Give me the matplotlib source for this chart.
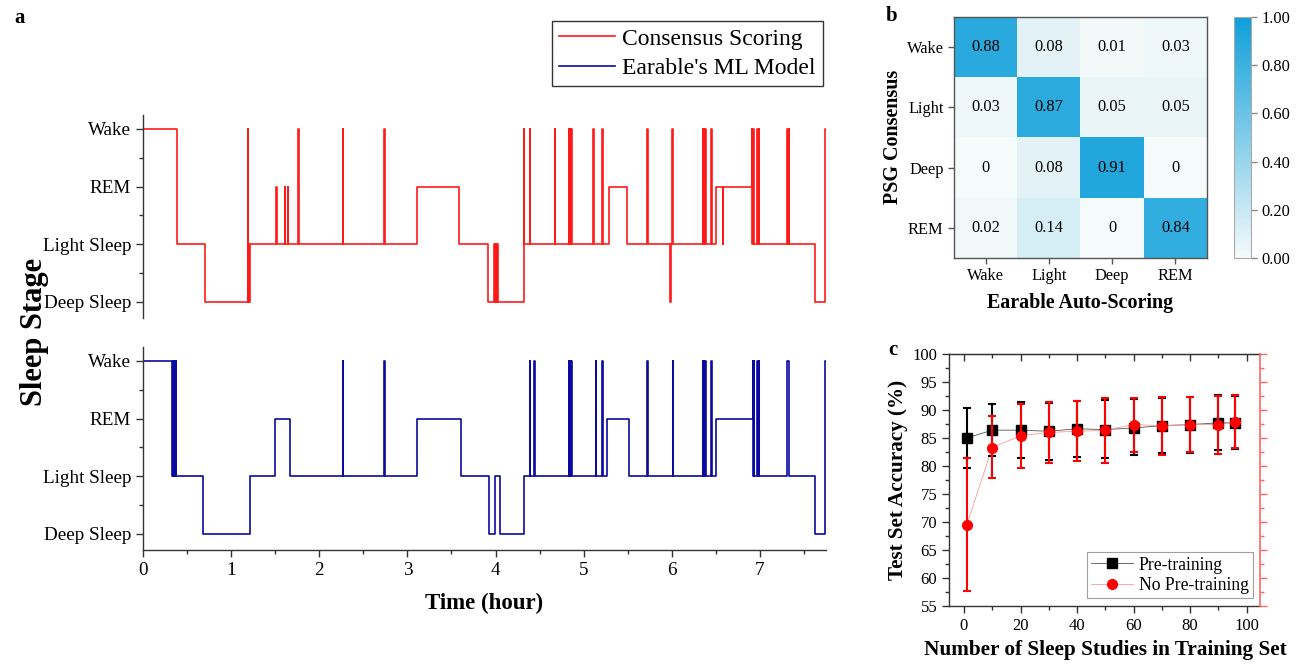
import numpy as np
import matplotlib
matplotlib.use("Agg")
import matplotlib.pyplot as plt
from matplotlib.colors import LinearSegmentedColormap
from matplotlib.ticker import MultipleLocator, FixedLocator

plt.rcParams['font.family'] = ['Liberation Serif', 'DejaVu Serif']
plt.rcParams['mathtext.fontset'] = 'stix'

# ---------------- data ----------------
stage_names = ['Deep Sleep', 'Light Sleep', 'REM', 'Wake']
stage_code = {'D': 0, 'L': 1, 'R': 2, 'W': 3}

consensus_times = [0, 0.39, 0.70, 1.19, 1.196, 1.201, 1.205, 1.21, 1.51, 1.515,
                   1.61, 1.615, 1.645, 1.65, 1.76, 1.765, 2.27, 2.275, 2.74, 2.745,
                   3.11, 3.59, 3.92, 3.98, 3.99, 4.00, 4.01, 4.02, 4.03, 4.32,
                   4.327, 4.39, 4.395, 4.67, 4.675, 4.83, 4.836, 4.845, 4.851, 4.86,
                   4.866, 5.11, 5.115, 5.21, 5.215, 5.29, 5.49, 5.72, 5.725, 5.98,
                   5.986, 6.005, 6.011, 6.35, 6.356, 6.365, 6.371, 6.38, 6.386, 6.45,
                   6.455, 6.50, 6.58, 6.585, 6.91, 6.915, 6.925, 6.93, 6.97, 6.975,
                   6.985, 6.99, 7.31, 7.316, 7.325, 7.331, 7.62, 7.74]
consensus_stages = ['W', 'L', 'D', 'W', 'D', 'L', 'D', 'L', 'R', 'L',
                    'R', 'L', 'R', 'L', 'W', 'L', 'W', 'L', 'W', 'L',
                    'R', 'L', 'D', 'L', 'D', 'L', 'D', 'L', 'D', 'W',
                    'L', 'W', 'L', 'W', 'L', 'W', 'L', 'W', 'L', 'W',
                    'L', 'W', 'L', 'W', 'L', 'R', 'L', 'W', 'L', 'D',
                    'L', 'W', 'L', 'W', 'L', 'W', 'L', 'W', 'L', 'W',
                    'L', 'R', 'L', 'R', 'W', 'L', 'W', 'L', 'W', 'L',
                    'W', 'L', 'W', 'L', 'W', 'L', 'D', 'W']

model_times = [0, 0.33, 0.336, 0.342, 0.348, 0.354, 0.36, 0.366, 0.372, 0.378,
               0.68, 1.21, 1.50, 1.67, 2.27, 2.275, 2.74, 2.745, 3.11, 3.61,
               3.93, 3.99, 4.05, 4.32, 4.39, 4.395, 4.44, 4.445, 4.83, 4.836,
               4.845, 4.851, 4.86, 4.866, 5.14, 5.145, 5.21, 5.215, 5.27, 5.51,
               5.72, 5.725, 6.01, 6.015, 6.35, 6.356, 6.365, 6.371, 6.38, 6.386,
               6.45, 6.455, 6.50, 6.92, 6.926, 6.932, 6.938, 6.97, 6.975, 6.985,
               6.99, 7.31, 7.33, 7.62, 7.74]
model_stages = ['W', 'L', 'W', 'L', 'W', 'L', 'W', 'L', 'W', 'L',
                'D', 'L', 'R', 'L', 'W', 'L', 'W', 'L', 'R', 'L',
                'D', 'L', 'D', 'L', 'W', 'L', 'W', 'L', 'W', 'L',
                'W', 'L', 'W', 'L', 'W', 'L', 'W', 'L', 'R', 'L',
                'W', 'L', 'W', 'L', 'W', 'L', 'W', 'L', 'W', 'L',
                'W', 'L', 'R', 'W', 'L', 'W', 'L', 'W', 'L', 'W',
                'L', 'W', 'L', 'D', 'W']
record_end = 7.75

cm_labels = ['Wake', 'Light', 'Deep', 'REM']
cm_values = [[0.88, 0.08, 0.01, 0.03],
             [0.03, 0.87, 0.05, 0.05],
             [0.00, 0.08, 0.91, 0.00],
             [0.02, 0.14, 0.00, 0.84]]
cm_text = [['0.88', '0.08', '0.01', '0.03'],
           ['0.03', '0.87', '0.05', '0.05'],
           ['0', '0.08', '0.91', '0'],
           ['0.02', '0.14', '0', '0.84']]

n_studies = [1, 10, 20, 30, 40, 50, 60, 70, 80, 90, 96]
pre_mean = [85.0, 86.4, 86.4, 86.2, 86.65, 86.5, 86.8, 87.2, 87.4, 87.7, 87.7]
pre_low = [79.7, 81.8, 81.35, 81.05, 81.6, 81.4, 81.9, 82.3, 82.4, 82.8, 83.1]
pre_high = [90.35, 91.0, 91.5, 91.3, 91.6, 91.7, 92.0, 92.2, 92.4, 92.6, 92.5]
nopre_mean = [69.5, 83.3, 85.4, 86.0, 86.2, 86.4, 87.4, 87.2, 87.4, 87.4, 87.85]
nopre_low = [57.75, 77.8, 79.7, 80.6, 80.9, 80.6, 82.5, 81.95, 82.5, 82.2, 83.25]
nopre_high = [81.35, 88.85, 91.1, 91.5, 91.65, 92.1, 92.1, 92.25, 92.4, 92.55, 92.65]

# ---------------- figure ----------------
W, H = 1306, 665
fig = plt.figure(figsize=(W / 100, H / 100), dpi=100)


def fbox(left, top, right, bottom):
    return [left / W, 1 - bottom / H, (right - left) / W, (bottom - top) / H]


def hypno(ax, times, stages, color, label):
    t = list(times) + [record_end]
    s = [stage_code[c] for c in stages]
    s = s + [s[-1]]
    ax.step(t, s, where='post', color=color, lw=1.2, label=label)
    ax.set_xlim(0, record_end)
    ax.set_ylim(-0.28, 3.24)
    ax.set_yticks(range(4))
    ax.set_yticklabels(stage_names, fontsize=13.8)
    ax.yaxis.set_minor_locator(FixedLocator([0.5, 1.5, 2.5]))
    ax.spines['top'].set_visible(False)
    ax.spines['right'].set_visible(False)
    for sp in ax.spines.values():
        sp.set_color('#333333')
        sp.set_linewidth(1.0)
    ax.tick_params(axis='y', which='major', length=5, width=1, colors='#333333', labelcolor='black')
    ax.tick_params(axis='y', which='minor', length=3, width=1, colors='#333333')


ax_top = fig.add_axes(fbox(143, 115, 826, 318))
hypno(ax_top, consensus_times, consensus_stages, '#ff1a1a', 'Consensus Scoring')
ax_top.spines['bottom'].set_visible(False)
ax_top.set_xticks([])

ax_bot = fig.add_axes(fbox(143, 347, 826, 550))
hypno(ax_bot, model_times, model_stages, '#0a0aa0', "Earable's ML Model")
ax_bot.set_xticks(range(8))
ax_bot.xaxis.set_minor_locator(MultipleLocator(0.5))
ax_bot.tick_params(axis='x', which='major', length=5, width=1, colors='#333333',
                   labelcolor='black', labelsize=13.8)
ax_bot.tick_params(axis='x', which='minor', length=3, width=1, colors='#333333')

fig.text(35 / W, 1 - 332 / H, 'Sleep Stage', rotation=90, ha='center', va='center',
         fontsize=22, fontweight='bold')
fig.text(484 / W, 1 - 603 / H, 'Time (hour)', ha='center', va='center',
         fontsize=16.5, fontweight='bold')

h1, l1 = ax_top.get_legend_handles_labels()
h2, l2 = ax_bot.get_legend_handles_labels()
leg = fig.legend(h1 + h2, l1 + l2, loc='upper right', bbox_to_anchor=(823 / W, 1 - 21 / H),
                 fontsize=17, frameon=True, fancybox=False, edgecolor='black',
                 handlelength=2.4, handletextpad=0.3, borderpad=0.3, labelspacing=0.35,
                 borderaxespad=0)
leg.get_frame().set_linewidth(1.0)

fig.text(20 / W, 1 - 18 / H, 'a', ha='center', va='center', fontsize=15, fontweight='bold')

# ---------------- panel b ----------------
cmap = LinearSegmentedColormap.from_list('blu', ['#f5fafa', '#0e9fda'])
ax_b = fig.add_axes(fbox(954, 17, 1207, 258))
im = ax_b.imshow(np.array(cm_values), cmap=cmap, vmin=0, vmax=1, aspect='auto')
for i in range(4):
    for j in range(4):
        ax_b.text(j, i, cm_text[i][j], ha='center', va='center', fontsize=11.8, color='black')
ax_b.set_xticks(range(4))
ax_b.set_xticklabels(cm_labels, fontsize=11.8)
ax_b.set_yticks(range(4))
ax_b.set_yticklabels(cm_labels, fontsize=11.8)
for sp in ax_b.spines.values():
    sp.set_color('#555555')
    sp.set_linewidth(1.0)
ax_b.tick_params(length=4, width=1, colors='#555555', labelcolor='black')

cax = fig.add_axes(fbox(1234, 17, 1251, 258))
cb = fig.colorbar(im, cax=cax)
cb.set_ticks([0, 0.2, 0.4, 0.6, 0.8, 1.0])
cb.set_ticklabels(['0.00', '0.20', '0.40', '0.60', '0.80', '1.00'])
cb.ax.tick_params(labelsize=11.8, length=4, width=1, colors='#888888', labelcolor='black')
cb.outline.set_edgecolor('#aaaaaa')
cb.outline.set_linewidth(0.8)

fig.text(893 / W, 1 - 137 / H, 'PSG Consensus', rotation=90, ha='center', va='center',
         fontsize=14.4, fontweight='bold')
fig.text(1080 / W, 1 - 303 / H, 'Earable Auto-Scoring', ha='center', va='center',
         fontsize=14.4, fontweight='bold')
fig.text(892 / W, 1 - 16 / H, 'b', ha='center', va='center', fontsize=15, fontweight='bold')

# ---------------- panel c ----------------
ax_c = fig.add_axes(fbox(949, 354, 1260, 606))
pre_m = np.array(pre_mean)
no_m = np.array(nopre_mean)
ax_c.errorbar(n_studies, pre_m, yerr=[pre_m - np.array(pre_low), np.array(pre_high) - pre_m],
              fmt='s', ms=7.5, color='black', mfc='black', mec='black', ecolor='black',
              elinewidth=1.5, capsize=3, capthick=1.5, zorder=3)
ax_c.plot(n_studies, pre_m, '-', color='#555555', lw=0.6, zorder=2)
ax_c.errorbar(n_studies, no_m, yerr=[no_m - np.array(nopre_low), np.array(nopre_high) - no_m],
              fmt='o', ms=7, color='red', mfc='red', mec='red', ecolor='red',
              elinewidth=1.5, capsize=3, capthick=1.5, zorder=4)
ax_c.plot(n_studies, no_m, '-', color='#ff9a9a', lw=0.6, zorder=2)

h_pre, = ax_c.plot([], [], '-s', color='#555555', lw=0.6, ms=7.5, mfc='black', mec='black',
                   label='Pre-training')
h_no, = ax_c.plot([], [], '-o', color='#ff9a9a', lw=0.6, ms=7, mfc='red', mec='red',
                  label='No Pre-training')
lc = ax_c.legend(handles=[h_pre, h_no], loc='lower right', bbox_to_anchor=(0.978, 0.03),
                 fontsize=12.7, frameon=True, fancybox=False, edgecolor='#888888',
                 handlelength=2.4, handletextpad=0.3, borderpad=0.25, labelspacing=0.2,
                 borderaxespad=0)
lc.get_frame().set_linewidth(0.8)

ax_c.set_xlim(-5.3, 104.7)
ax_c.set_ylim(55, 100)
ax_c.xaxis.set_major_locator(MultipleLocator(20))
ax_c.xaxis.set_minor_locator(MultipleLocator(10))
ax_c.yaxis.set_major_locator(MultipleLocator(5))
ax_c.yaxis.set_minor_locator(MultipleLocator(2.5))
ax_c.tick_params(axis='both', which='major', length=5, width=1, colors='#333333',
                 labelcolor='black', labelsize=12)
ax_c.tick_params(axis='both', which='minor', length=3, width=1, colors='#333333')
ax_c.tick_params(axis='x', which='both', top=True, direction='out')
ax_c.tick_params(axis='x', which='both', top=True)
for sp in ['left', 'bottom', 'top']:
    ax_c.spines[sp].set_color('#333333')
    ax_c.spines[sp].set_linewidth(1.0)
ax_c.spines['right'].set_visible(False)

# top ticks pointing inward via secondary axis
sec = ax_c.secondary_xaxis('top')
sec.xaxis.set_major_locator(MultipleLocator(20))
sec.xaxis.set_minor_locator(MultipleLocator(10))
sec.tick_params(axis='x', which='major', direction='in', length=5, width=1, colors='#333333',
                labeltop=False)
sec.tick_params(axis='x', which='minor', direction='in', length=3, width=1, colors='#333333')
sec.spines['top'].set_color('#333333')
ax_c.tick_params(axis='x', which='both', top=False)

axr = ax_c.twinx()
axr.set_ylim(55, 100)
axr.yaxis.set_major_locator(MultipleLocator(5))
axr.yaxis.set_minor_locator(MultipleLocator(2.5))
axr.tick_params(axis='y', which='major', length=5, width=1, colors='#ff6666', labelright=False)
axr.tick_params(axis='y', which='minor', length=3, width=1, colors='#ff6666')
axr.spines['right'].set_color('#ff6666')
axr.spines['right'].set_linewidth(1.2)
for sp in ['left', 'top', 'bottom']:
    axr.spines[sp].set_visible(False)

fig.text(898 / W, 1 - 480 / H, 'Test Set Accuracy (%)', rotation=90, ha='center', va='center',
         fontsize=15.2, fontweight='bold')
fig.text(1105 / W, 1 - 650 / H, 'Number of Sleep Studies in Training Set', ha='center',
         va='center', fontsize=15.3, fontweight='bold')
fig.text(893 / W, 1 - 350 / H, 'c', ha='center', va='center', fontsize=15, fontweight='bold')

fig.savefig('out.png', dpi=100)
